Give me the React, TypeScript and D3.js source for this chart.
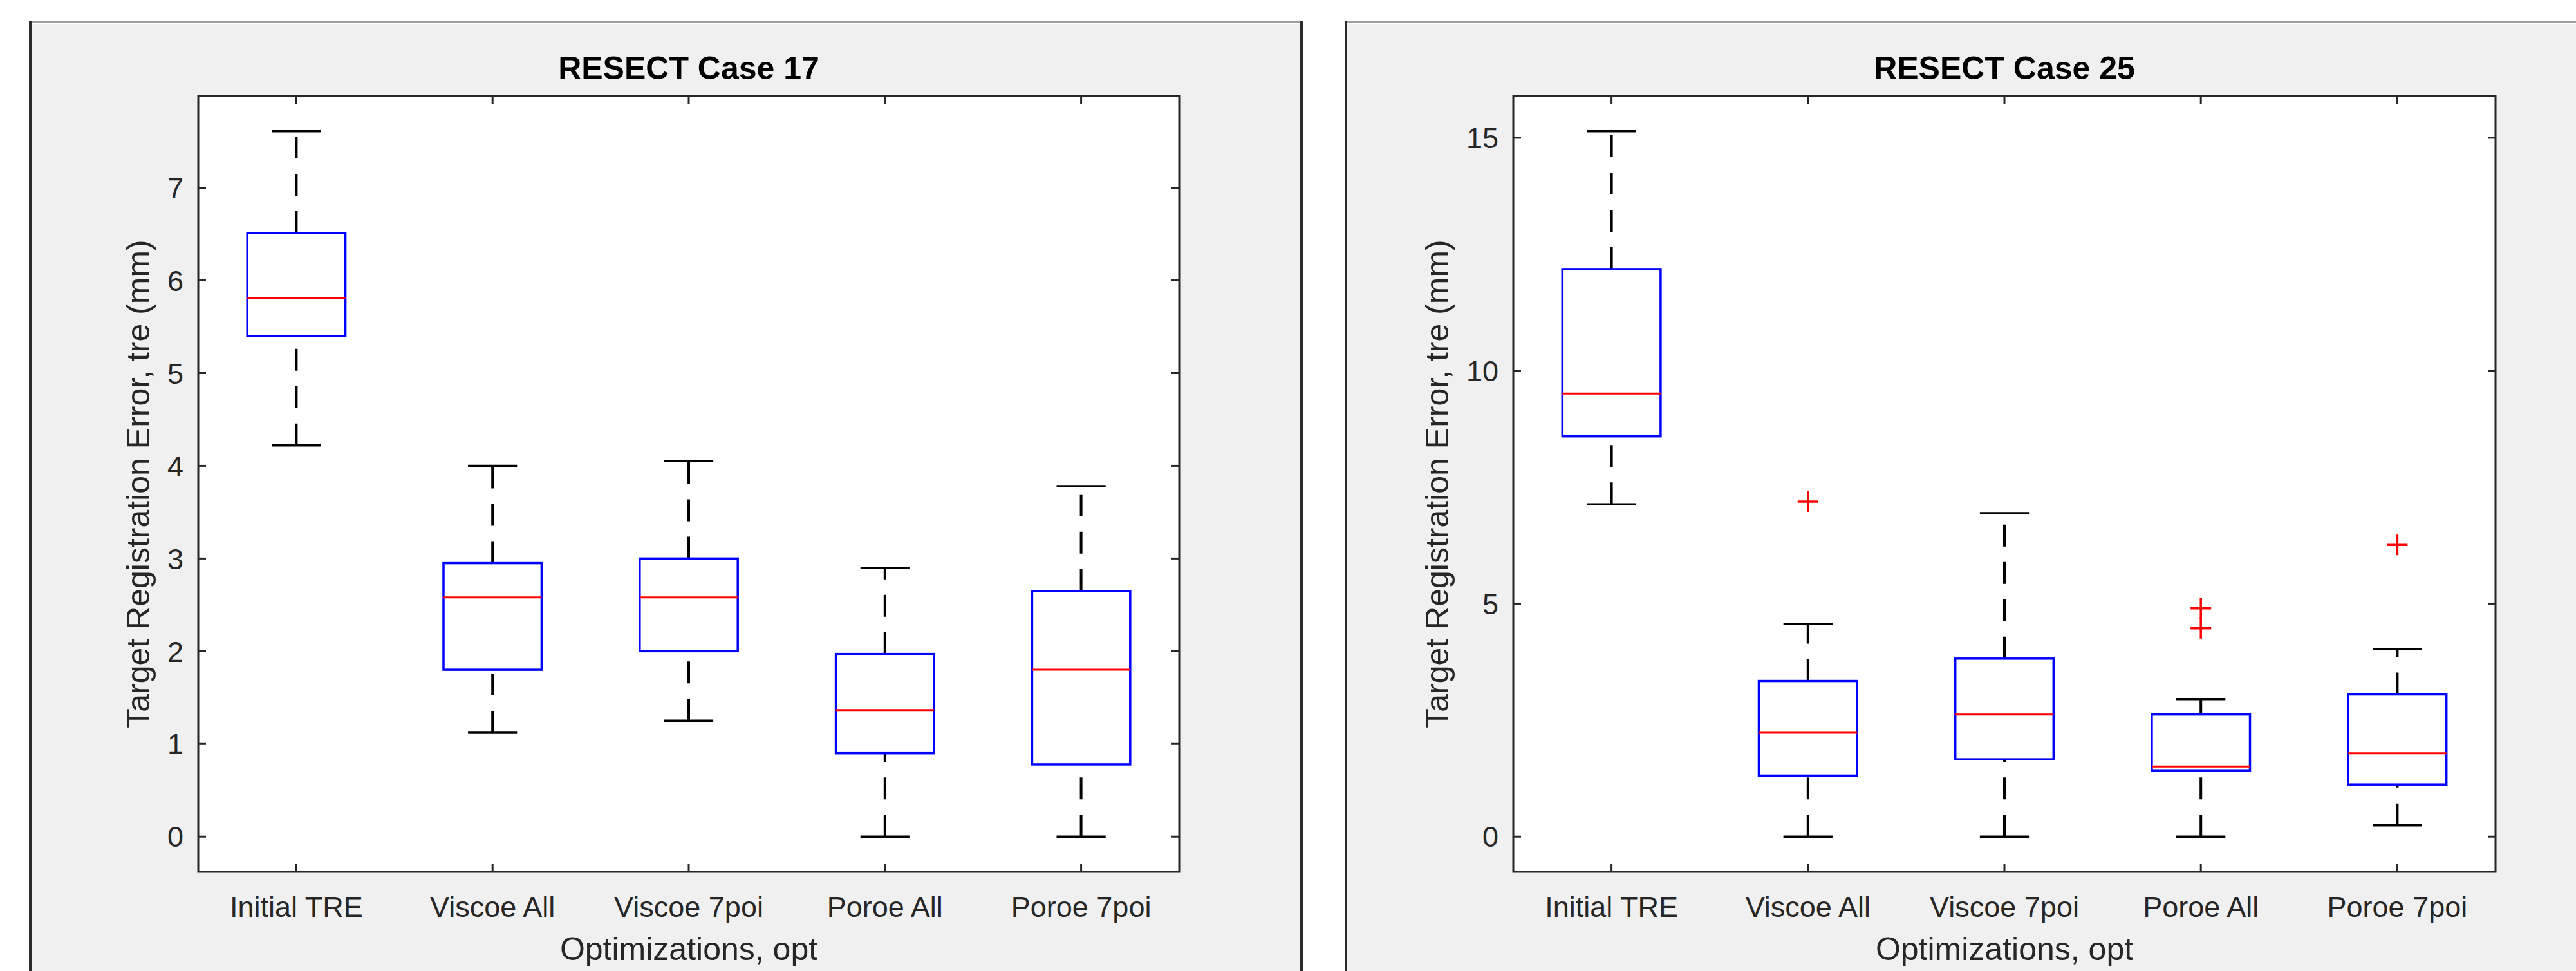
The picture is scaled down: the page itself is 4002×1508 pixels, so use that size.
import React from "react";
import * as d3 from "d3";

const categories = ["Initial TRE", "Viscoe All", "Viscoe 7poi", "Poroe All", "Poroe 7poi"];

// RESECT case 17
const case17Lower = [4.22, 1.12, 1.25, 0, 0];
const case17Q1 = [5.4, 1.8, 2.0, 0.9, 0.78];
const case17Median = [5.81, 2.58, 2.58, 1.365, 1.8];
const case17Q3 = [6.51, 2.95, 3.0, 1.97, 2.65];
const case17Upper = [7.61, 4.0, 4.05, 2.9, 3.78];
const case17Outliers: number[][] = [[], [], [], [], []];
const case17Ticks = [0, 1, 2, 3, 4, 5, 6, 7];

// RESECT case 25
const case25Lower = [7.13, 0, 0, 0, 0.24];
const case25Q1 = [8.59, 1.31, 1.66, 1.41, 1.12];
const case25Median = [9.51, 2.23, 2.62, 1.505, 1.79];
const case25Q3 = [12.18, 3.34, 3.82, 2.62, 3.05];
const case25Upper = [15.14, 4.56, 6.94, 2.95, 4.02];
const case25Outliers: number[][] = [[], [7.19], [], [4.9, 4.47], [6.26]];
const case25Ticks = [0, 5, 10, 15];

const W = 4002;
const H = 1508;
const FONT = "'Liberation Sans', Arial, Helvetica, sans-serif";
const AXIS = "#262626";

type PanelProps = {
  title: string;
  lower: number[];
  q1: number[];
  median: number[];
  q3: number[];
  upper: number[];
  outliers: number[][];
  ticks: number[];
  left: number;
  right: number;
};

function BoxPanel(props: PanelProps) {
  const { title, lower, q1, median, q3, upper, outliers, ticks, left, right } = props;
  const top = 149;
  const bottom = 1354;
  const all = [...lower, ...upper, ...outliers.flat()];
  const lo = d3.min(all) as number;
  const hi = d3.max(all) as number;
  const pad = (hi - lo) * 0.05;
  const y = d3.scaleLinear().domain([lo - pad, hi + pad]).range([bottom, top]);
  const x = d3.scaleBand<string>().domain(categories).range([left, right]).padding(0);
  const bw = x.bandwidth();
  const cx = (c: string) => (x(c) as number) + bw / 2;
  const boxW = bw * 0.5;
  const capW = bw * 0.25;
  const tickLen = 12;
  const fmt = d3.format("d");
  const tickLabelW = d3.max(ticks, (t) => fmt(t).length * 25) as number;
  const ylabelX = left - 23 - tickLabelW - 28;
  const midX = (left + right) / 2;
  const midY = (top + bottom) / 2;

  return (
    <g>
      <rect x={left} y={top} width={right - left} height={bottom - top} fill="#ffffff" />
      {categories.map((c, i) => {
        const xc = cx(c);
        return (
          <g key={c}>
            {/* whiskers, drawn from low value to high value like matlab */}
            <path
              d={`M${xc},${y(lower[i])}L${xc},${y(q1[i])}`}
              stroke="#000"
              strokeWidth={4}
              strokeDasharray="34 24"
              fill="none"
            />
            <path
              d={`M${xc},${y(q3[i])}L${xc},${y(upper[i])}`}
              stroke="#000"
              strokeWidth={4}
              strokeDasharray="34 24"
              fill="none"
            />
            <line x1={xc - capW / 2} x2={xc + capW / 2} y1={y(upper[i])} y2={y(upper[i])} stroke="#000" strokeWidth={3.5} />
            <line x1={xc - capW / 2} x2={xc + capW / 2} y1={y(lower[i])} y2={y(lower[i])} stroke="#000" strokeWidth={3.5} />
            <rect
              x={xc - boxW / 2}
              y={y(q3[i])}
              width={boxW}
              height={y(q1[i]) - y(q3[i])}
              fill="none"
              stroke="#0000ff"
              strokeWidth={3.5}
            />
            <line x1={xc - boxW / 2} x2={xc + boxW / 2} y1={y(median[i])} y2={y(median[i])} stroke="#ff0000" strokeWidth={3} />
            {outliers[i].map((v, k) => (
              <path
                key={k}
                d={`M${xc - 16},${y(v)}L${xc + 16},${y(v)}M${xc},${y(v) - 16}L${xc},${y(v) + 16}`}
                stroke="#ff0000"
                strokeWidth={3.5}
              />
            ))}
          </g>
        );
      })}

      {/* axes box and ticks */}
      <rect x={left} y={top} width={right - left} height={bottom - top} fill="none" stroke={AXIS} strokeWidth={3} />
      {ticks.map((t) => (
        <g key={t}>
          <line x1={left} x2={left + tickLen} y1={y(t)} y2={y(t)} stroke={AXIS} strokeWidth={3} />
          <line x1={right - tickLen} x2={right} y1={y(t)} y2={y(t)} stroke={AXIS} strokeWidth={3} />
          <text
            x={left - 23}
            y={y(t)}
            dy="0.36em"
            textAnchor="end"
            fontFamily={FONT}
            fontSize={45}
            fill={AXIS}
          >
            {fmt(t)}
          </text>
        </g>
      ))}
      {categories.map((c) => (
        <g key={c}>
          <line x1={cx(c)} x2={cx(c)} y1={bottom} y2={bottom - tickLen} stroke={AXIS} strokeWidth={3} />
          <line x1={cx(c)} x2={cx(c)} y1={top} y2={top + tickLen} stroke={AXIS} strokeWidth={3} />
          <text x={cx(c)} y={1424} textAnchor="middle" fontFamily={FONT} fontSize={45} fill={AXIS}>
            {c}
          </text>
        </g>
      ))}

      <text x={midX} y={123} textAnchor="middle" fontFamily={FONT} fontSize={50} fontWeight="bold" fill="#000">
        {title}
      </text>
      <text x={midX} y={1491} textAnchor="middle" fontFamily={FONT} fontSize={50} fill={AXIS}>
        Optimizations, opt
      </text>
      <text
        transform={`translate(${ylabelX},${midY}) rotate(-90)`}
        textAnchor="middle"
        fontFamily={FONT}
        fontSize={50}
        fill={AXIS}
      >
        Target Registration Error, tre (mm)
      </text>
    </g>
  );
}

export default function App() {
  return (
    <svg
      width={W}
      height={H}
      style={{ position: "absolute", left: 0, top: 0, display: "block" }}
    >
      <rect x={0} y={0} width={W} height={H} fill="#ffffff" />

      {/* figure windows */}
      <rect x={47} y={35} width={1975} height={H - 35} fill="#f0f0f0" />
      <rect x={47} y={35} width={1975} height={3} fill="#ffffff" />
      <rect x={45} y={32} width={1979} height={3} fill="#a0a0a0" />
      <rect x={45} y={32} width={4} height={H - 32} fill="#2b2b2b" />
      <rect x={2020} y={32} width={4} height={H - 32} fill="#2b2b2b" />

      <rect x={2093} y={35} width={W - 2093} height={H - 35} fill="#f0f0f0" />
      <rect x={2093} y={35} width={W - 2093} height={3} fill="#ffffff" />
      <rect x={2089} y={32} width={W - 2089} height={3} fill="#a0a0a0" />
      <rect x={2089} y={32} width={4} height={H - 32} fill="#2b2b2b" />

      <BoxPanel
        title="RESECT Case 17"
        lower={case17Lower}
        q1={case17Q1}
        median={case17Median}
        q3={case17Q3}
        upper={case17Upper}
        outliers={case17Outliers}
        ticks={case17Ticks}
        left={308}
        right={1832}
      />
      <BoxPanel
        title="RESECT Case 25"
        lower={case25Lower}
        q1={case25Q1}
        median={case25Median}
        q3={case25Q3}
        upper={case25Upper}
        outliers={case25Outliers}
        ticks={case25Ticks}
        left={2351}
        right={3877}
      />
    </svg>
  );
}
